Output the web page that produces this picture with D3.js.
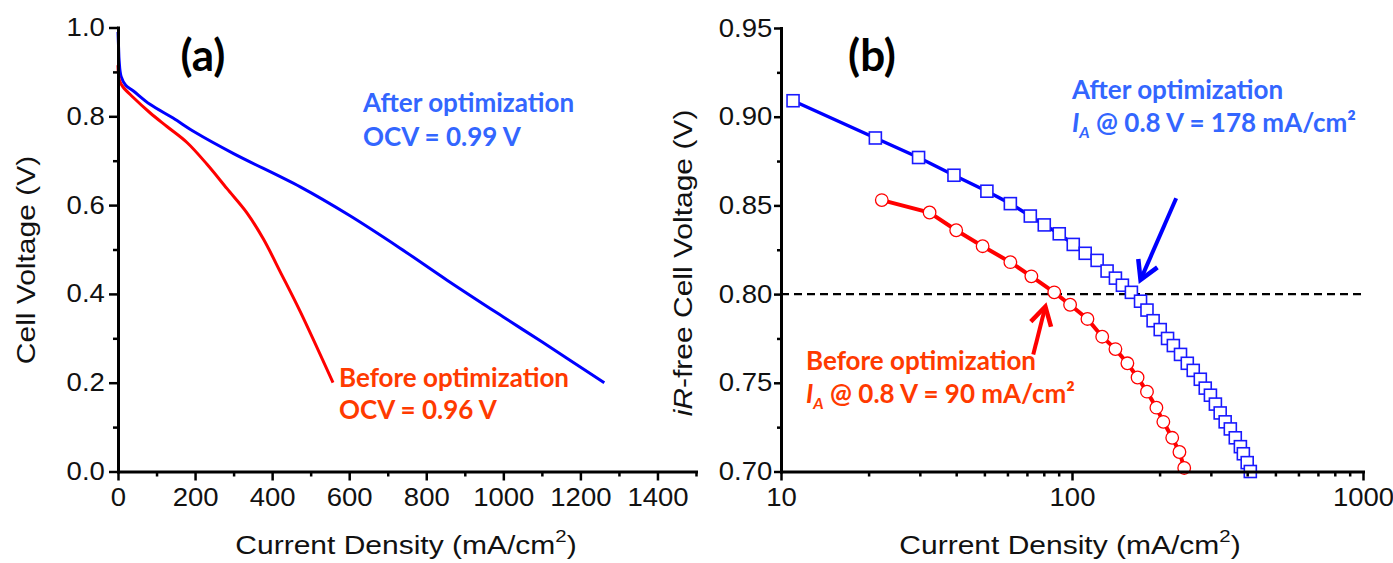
<!DOCTYPE html>
<html>
<head>
<meta charset="utf-8">
<script src="https://cdn.jsdelivr.net/npm/d3@7"></script>
<style>
body { margin: 0; background: #fff; }
svg text { font-family: "Liberation Sans", Arial, sans-serif; }
svg text.note { font-family: Lato, "Open Sans", sans-serif; font-weight: 700; }
</style>
</head>
<body>
<div class="chart"></div>
<script>
// (a) polarization curves, current density in mA/cm2, voltage in V
var aAfterJ = [0, 1.5, 3, 8, 20, 40, 83, 143, 200, 300, 473, 600, 732, 854, 1000, 1100, 1262];
var aAfterV = [0.99, 0.955, 0.925, 0.89, 0.87, 0.857, 0.827, 0.796, 0.764, 0.716, 0.641, 0.577, 0.503, 0.431, 0.348, 0.292, 0.2];
var aBeforeJ = [0, 4, 13, 39, 83, 127, 179, 231, 283, 335, 377, 425, 473, 558];
var aBeforeV = [0.915, 0.88, 0.866, 0.843, 0.808, 0.777, 0.741, 0.692, 0.637, 0.582, 0.524, 0.443, 0.36, 0.2];
var aXTicks = [0, 200, 400, 600, 800, 1000, 1200, 1400];
var aXMinor = [100, 300, 500, 700, 900, 1100, 1300, 1500];
var aYTicks = [0, 0.2, 0.4, 0.6, 0.8, 1.0];
var aYMinor = [0.1, 0.3, 0.5, 0.7, 0.9];

// (b) iR-free voltage vs log current density
var bAfterJ = [11.0, 21.1, 29.7, 39.3, 51, 61.4, 71.9, 80.3, 90.4, 101, 111, 122, 132, 141, 149, 160, 172, 181, 190, 201, 213, 223, 236, 249, 261, 276, 287, 299, 311, 323, 336, 350, 364, 379, 388, 400, 410];
var bAfterV = [0.909, 0.888, 0.877, 0.867, 0.858, 0.851, 0.844, 0.839, 0.834, 0.828, 0.823, 0.819, 0.813, 0.809, 0.805, 0.801, 0.796, 0.791, 0.785, 0.780, 0.775, 0.771, 0.766, 0.761, 0.757, 0.752, 0.747, 0.743, 0.738, 0.733, 0.728, 0.724, 0.719, 0.714, 0.710, 0.705, 0.700];
var bBeforeJ = [22.2, 32.4, 40.0, 49.3, 61.4, 72.5, 86.9, 98.5, 113, 127, 141, 155, 168, 181, 195, 206, 221, 234, 243];
var bBeforeV = [0.853, 0.846, 0.836, 0.827, 0.818, 0.810, 0.801, 0.794, 0.786, 0.776, 0.769, 0.761, 0.753, 0.745, 0.736, 0.728, 0.719, 0.711, 0.702];
var bXTicks = [10, 100, 1000];
var bXMinor = [20, 30, 40, 50, 60, 70, 80, 90, 200, 300, 400, 500, 600, 700, 800, 900];
var bYTicks = [0.70, 0.75, 0.80, 0.85, 0.90, 0.95];
var bYMinor = [0.725, 0.775, 0.825, 0.875, 0.925];
var refV = 0.8;
// arrows: [tail, tip]
var afterArrowJ = [228, 172], afterArrowV = [0.854, 0.808];
var beforeArrowJ = [73.6, 81], beforeArrowV = [0.766, 0.793];

var BLUE = "#0000ff", RED = "#ff0000", BLUE_TXT = "#3366ff", RED_TXT = "#ff3a00";

var svg = d3.select(".chart").append("svg")
    .attr("width", 1393)
    .attr("height", 563);

var xA = d3.scaleLinear().domain([0, 1500]).range([118, 696]);
var yA = d3.scaleLinear().domain([0, 1]).range([471.5, 27.5]);
var xB = d3.scaleLog().domain([10, 1000]).range([781, 1363]);
var yB = d3.scaleLinear().domain([0.70, 0.95]).range([471.5, 28]);

function pts(xs, ys) { return xs.map(function (d, i) { return [d, ys[i]]; }); }

// ---- panel (a) curves
var lineA = d3.line().x(d => xA(d[0])).y(d => yA(d[1])).curve(d3.curveCatmullRom.alpha(0.5));
svg.append("path").attr("d", lineA(pts(aAfterJ, aAfterV)))
    .attr("fill", "none").attr("stroke", BLUE).attr("stroke-width", 3);
svg.append("path").attr("d", lineA(pts(aBeforeJ, aBeforeV)))
    .attr("fill", "none").attr("stroke", RED).attr("stroke-width", 3);

// ---- panel (b)
svg.append("line")
    .attr("x1", xB(10)).attr("x2", xB(1000))
    .attr("y1", yB(refV)).attr("y2", yB(refV))
    .attr("stroke", "#000").attr("stroke-width", 2.4).attr("stroke-dasharray", "8,5");

var lineB = d3.line().x(d => xB(d[0])).y(d => yB(d[1]));
svg.append("path").attr("d", lineB(pts(bAfterJ, bAfterV)))
    .attr("fill", "none").attr("stroke", BLUE).attr("stroke-width", 3.5);
svg.append("path").attr("d", lineB(pts(bBeforeJ, bBeforeV)))
    .attr("fill", "none").attr("stroke", RED).attr("stroke-width", 4);

svg.append("g").selectAll("rect")
    .data(pts(bAfterJ, bAfterV))
    .enter().append("rect")
    .attr("x", d => xB(d[0]) - 6)
    .attr("y", d => yB(d[1]) - 6)
    .attr("width", 12).attr("height", 12)
    .attr("fill", "#fff").attr("stroke", "#1a1aff").attr("stroke-width", 1.6);

svg.append("g").selectAll("circle")
    .data(pts(bBeforeJ, bBeforeV))
    .enter().append("circle")
    .attr("cx", d => xB(d[0]))
    .attr("cy", d => yB(d[1]))
    .attr("r", 6.3)
    .attr("fill", "#fff").attr("stroke", RED).attr("stroke-width", 1.3);

function arrow(js, vs, color) {
    var x0 = xB(js[0]), y0 = yB(vs[0]), x1 = xB(js[1]), y1 = yB(vs[1]);
    var ang = Math.atan2(y0 - y1, x0 - x1), len = 21, spread = 0.52;
    svg.append("line").attr("x1", x0).attr("y1", y0).attr("x2", x1).attr("y2", y1)
        .attr("stroke", color).attr("stroke-width", 4);
    svg.append("path")
        .attr("d", "M" + (x1 + len * Math.cos(ang - spread)) + "," + (y1 + len * Math.sin(ang - spread)) +
            "L" + x1 + "," + y1 +
            "L" + (x1 + len * Math.cos(ang + spread)) + "," + (y1 + len * Math.sin(ang + spread)))
        .attr("fill", "none").attr("stroke", color).attr("stroke-width", 4.5)
        .attr("stroke-linejoin", "miter");
}
arrow(afterArrowJ, afterArrowV, BLUE);
arrow(beforeArrowJ, beforeArrowV, RED);

// ---- axes
function styleAxis(g, major) {
    g.select(".domain").attr("stroke-width", 3).attr("stroke-linecap", "square").attr("stroke", "#000");
    g.selectAll(".tick line").attr("stroke-width", 2.5).attr("stroke", "#000");
    g.selectAll(".tick text").style("font-size", "25px").style("fill", "#111")
        .attr("transform", "scale(1.1,1)");
    if (!major) g.select(".domain").remove();
}

var fmt1 = d3.format(".1f"), fmt2 = d3.format(".2f"), fmtD = d3.format("d");

svg.append("g").attr("transform", "translate(0," + yA(0) + ")")
    .call(d3.axisBottom(xA).tickValues(aXMinor).tickSize(5).tickFormat(""))
    .call(g => styleAxis(g, false));
svg.append("g").attr("transform", "translate(0," + yA(0) + ")")
    .call(d3.axisBottom(xA).tickValues(aXTicks).tickFormat(fmtD).tickSize(9).tickSizeOuter(0).tickPadding(8))
    .call(g => styleAxis(g, true));
svg.append("g").attr("transform", "translate(" + xA(0) + ",0)")
    .call(d3.axisLeft(yA).tickValues(aYMinor).tickSize(5).tickFormat(""))
    .call(g => styleAxis(g, false));
svg.append("g").attr("transform", "translate(" + xA(0) + ",0)")
    .call(d3.axisLeft(yA).tickValues(aYTicks).tickFormat(fmt1).tickSize(9).tickSizeOuter(0).tickPadding(3))
    .call(g => styleAxis(g, true));

svg.append("g").attr("transform", "translate(0," + yB(0.70) + ")")
    .call(d3.axisBottom(xB).tickValues(bXMinor).tickSize(5).tickFormat(""))
    .call(g => styleAxis(g, false));
svg.append("g").attr("transform", "translate(0," + yB(0.70) + ")")
    .call(d3.axisBottom(xB).tickValues(bXTicks).tickFormat(fmtD).tickSize(9).tickSizeOuter(0).tickPadding(8))
    .call(g => styleAxis(g, true));
svg.append("g").attr("transform", "translate(" + xB(10) + ",0)")
    .call(d3.axisLeft(yB).tickValues(bYMinor).tickSize(4).tickFormat(""))
    .call(g => styleAxis(g, false));
svg.append("g").attr("transform", "translate(" + xB(10) + ",0)")
    .call(d3.axisLeft(yB).tickValues(bYTicks).tickFormat(fmt2).tickSize(7).tickSizeOuter(0).tickPadding(1))
    .call(g => styleAxis(g, true));

// ---- axis titles (the original glyphs are a bit wide)
function title(x, y, rot, parts) {
    var t = svg.append("g")
        .attr("transform", "translate(" + x + "," + y + ") rotate(" + rot + ") scale(1.2,1)")
        .append("text").attr("text-anchor", "middle").style("font-size", "25px").style("fill", "#111");
    parts.forEach(function (p) {
        var s = t.append("tspan").text(p.t);
        if (p.it) s.style("font-style", "italic");
        if (p.dy) s.attr("dy", p.dy);
        if (p.fs) s.style("font-size", p.fs);
    });
}
var densityParts = [{ t: "Current Density (mA/cm" }, { t: "2", dy: -12, fs: "17px" }, { t: ")", dy: 12 }];
title(406, 554, 0, densityParts);
title(1070, 554, 0, densityParts);
title(35, 260, -90, [{ t: "Cell Voltage (V)" }]);
title(692, 263, -90, [{ t: "iR", it: true }, { t: "-free Cell Voltage (V)" }]);

// ---- annotations
function note(x, y, size, color, parts) {
    var t = svg.append("text").attr("class", "note")
        .attr("x", x).attr("y", y).style("font-size", size + "px").style("fill", color);
    parts.forEach(function (p) {
        var s = t.append("tspan").text(p.t);
        if (p.it) s.style("font-style", "italic");
        if (p.dy) s.attr("dy", p.dy);
        if (p.fs) s.style("font-size", p.fs);
    });
    return t;
}
note(203, 71, 44, "#000", [{ t: "(a)" }]).attr("text-anchor", "middle");
note(872, 71, 44, "#000", [{ t: "(b)" }]).attr("text-anchor", "middle");

note(363, 112, 26, BLUE_TXT, [{ t: "After optimization" }]);
note(363, 146, 26, BLUE_TXT, [{ t: "OCV = 0.99 V" }]);
note(339, 387, 26, RED_TXT, [{ t: "Before optimization" }]);
note(339, 419, 26, RED_TXT, [{ t: "OCV = 0.96 V" }]);

note(1072, 99, 26, BLUE_TXT, [{ t: "After optimization" }]);
note(1072, 132, 26, BLUE_TXT, [{ t: "I", it: true }, { t: "A", it: true, fs: "16px", dy: 6 }, { t: " @ 0.8 V = 178 mA/cm\u00b2", dy: -6 }]);
note(806, 370, 26, RED_TXT, [{ t: "Before optimization" }]);
note(806, 403, 26, RED_TXT, [{ t: "I", it: true }, { t: "A", it: true, fs: "16px", dy: 6 }, { t: " @ 0.8 V = 90 mA/cm\u00b2", dy: -6 }]);
</script>
</body>
</html>
